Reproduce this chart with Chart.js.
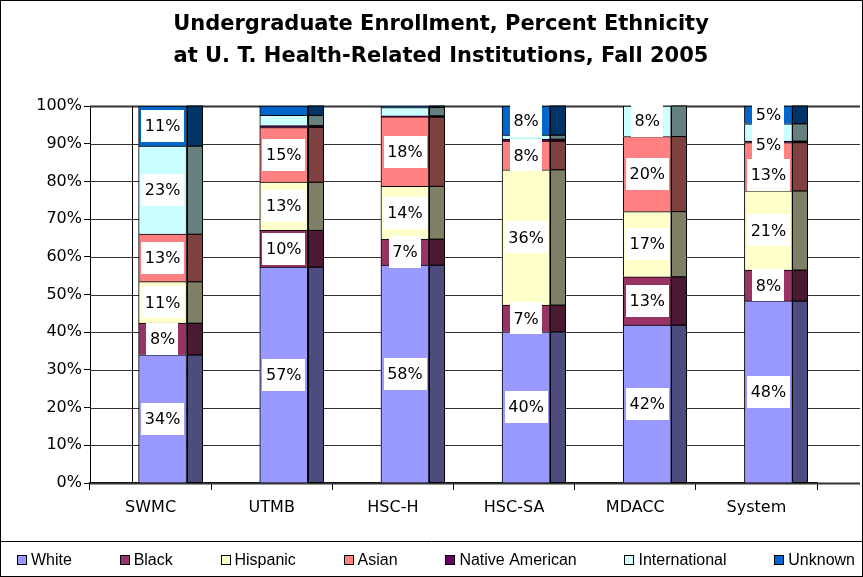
<!DOCTYPE html>
<html>
<head>
<meta charset="utf-8">
<script src="https://cdn.jsdelivr.net/npm/chart.js@4.4.0/dist/chart.umd.min.js"></script>
<style>html,body{margin:0;padding:0;background:#fff}</style>
</head>
<body>
<canvas id="enrollChart" width="863" height="577"></canvas>
<script>
// percent of undergraduate enrollment
const categories = ['SWMC', 'UTMB', 'HSC-H', 'HSC-SA', 'MDACC', 'System'];
const white    = [34.0, 57.3, 57.8, 40.1, 41.9, 48.3];
const black    = [8.4, 9.7, 6.9, 7.1, 12.8, 8.2];
const hispanic = [11.0, 12.8, 14.0, 35.9, 17.3, 21.0];
const asian    = [12.6, 14.5, 18.4, 7.6, 19.9, 12.8];
const nativeAm = [0, 0.5, 0.3, 0.5, 0, 0.4];
const intl     = [23.4, 2.7, 2.2, 1.1, 8.1, 4.6];
const unknown  = [10.6, 2.5, 0.4, 7.7, 0, 4.7];
const seriesNames  = ['White', 'Black', 'Hispanic', 'Asian', 'Native American', 'International', 'Unknown'];
const seriesValues = [white, black, hispanic, asian, nativeAm, intl, unknown];
const seriesColors = ['#9999ff', '#993366', '#ffffcc', '#ff8080', '#660066', '#ccffff', '#0066cc'];

const FONT = 'DejaVu Sans', LEGEND_FONT = '16px "Liberation Sans"';
const depth = 16, shift = 12, minLabel = 4, labelGap = 30;

function darker(hex){
  const n = parseInt(hex.slice(1), 16);
  const r = (n >> 16) >> 1, g = ((n >> 8) & 255) >> 1, b = (n & 255) >> 1;
  return `rgb(${r},${g},${b})`;
}

const decor = {
  id: 'decor',
  beforeDatasetsDraw(chart){
    const { ctx, chartArea: a, scales: { y } } = chart;
    ctx.save();
    ctx.strokeStyle = '#333';
    y.ticks.forEach(t => {
      const py = Math.round(y.getPixelForValue(t.value)) + 0.5;
      ctx.lineWidth = (t.value === 100 || t.value === 0) ? 2 : 1;
      ctx.beginPath(); ctx.moveTo(a.left, py); ctx.lineTo(chart.width - 3, py); ctx.stroke();
    });
    // back wall edge
    ctx.lineWidth = 1; ctx.strokeStyle = '#000';
    ctx.beginPath(); ctx.moveTo(a.left + 42.5, a.top); ctx.lineTo(a.left + 42.5, a.bottom); ctx.stroke();
    ctx.restore();
    ctx.save();
    ctx.translate(shift, 0);
  },
  afterDatasetsDraw(chart){
    const ctx = chart.ctx;
    // side faces
    chart.data.datasets.forEach((ds, i) => {
      chart.getDatasetMeta(i).data.forEach(bar => {
        const { x, y, base, width } = bar.getProps(['x', 'y', 'base', 'width'], true);
        if (Math.abs(base - y) < 0.1) return;
        const x0 = Math.round(x + width / 2);
        ctx.fillStyle = darker(ds.backgroundColor);
        ctx.fillRect(x0, y, depth, base - y);
        ctx.strokeStyle = '#000'; ctx.lineWidth = 1;
        ctx.strokeRect(x0 + 0.5, y, depth - 1, base - y);
      });
    });
    // value labels, nudged down a little where they would collide
    ctx.font = `16px "${FONT}"`;
    ctx.textAlign = 'center'; ctx.textBaseline = 'middle';
    const labels = [];
    categories.forEach((c, j) => {
      const col = [];
      chart.data.datasets.forEach((ds, i) => {
        const v = ds.data[j];
        if (v < minLabel) return;
        const { x, y, base } = chart.getDatasetMeta(i).data[j].getProps(['x', 'y', 'base'], true);
        col.push({ i, x, cy: (y + base) / 2, txt: Math.round(v) + '%' });
      });
      col.sort((p, q) => p.cy - q.cy);
      for (let k = 1; k < col.length; k++) col[k].cy = Math.max(col[k].cy, col[k - 1].cy + labelGap);
      labels.push(...col);
    });
    labels.sort((p, q) => p.i - q.i).forEach(l => {
      const w = ctx.measureText(l.txt).width + 7, h = 32;
      ctx.fillStyle = '#fff';
      ctx.fillRect(Math.round(l.x - w / 2), Math.round(l.cy - h / 2), Math.round(w), h);
      ctx.fillStyle = '#000';
      ctx.fillText(l.txt, l.x, l.cy + 1);
    });
    ctx.restore();
  },
  afterDraw(chart){
    const ctx = chart.ctx, W = chart.width, H = chart.height;
    ctx.save();
    ctx.strokeStyle = '#000'; ctx.lineWidth = 1;
    ctx.strokeRect(0.5, 0.5, W - 1, H - 1);
    ctx.beginPath(); ctx.moveTo(0, 541.5); ctx.lineTo(W, 541.5); ctx.stroke();
    // legend row
    ctx.font = LEGEND_FONT; ctx.textAlign = 'left'; ctx.textBaseline = 'middle';
    const widths = seriesNames.map(n => 14 + ctx.measureText(n).width);
    const x0 = 17, x1 = 855, ly = 560;
    const gap = (x1 - x0 - widths.reduce((a, b) => a + b, 0)) / (seriesNames.length - 1);
    let x = x0;
    seriesNames.forEach((n, i) => {
      ctx.fillStyle = seriesColors[i];
      ctx.fillRect(Math.round(x), ly - 5, 10, 10);
      ctx.strokeStyle = '#000';
      ctx.strokeRect(Math.round(x) + 0.5, ly - 4.5, 9, 9);
      ctx.fillStyle = '#000';
      ctx.fillText(n, x + 14, ly + 1);
      x += widths[i] + gap;
    });
    ctx.restore();
  }
};

new Chart(document.getElementById('enrollChart'), {
  type: 'bar',
  data: {
    labels: categories,
    datasets: seriesNames.map((name, i) => ({
      label: name,
      data: seriesValues[i],
      backgroundColor: seriesColors[i],
      borderColor: '#000',
      borderWidth: 1,
      barThickness: 48,
      stack: 'all'
    }))
  },
  options: {
    responsive: false,
    animation: false,
    devicePixelRatio: 1,
    layout: { padding: { left: 19, right: 0, top: 0, bottom: 36 } },
    plugins: {
      title: {
        display: true,
        text: ['Undergraduate Enrollment, Percent Ethnicity', 'at U. T. Health-Related Institutions, Fall 2005'],
        color: '#000',
        font: { family: FONT, size: 21, weight: 'bold', lineHeight: 1.524 },
        padding: { top: 9, bottom: 33 }
      },
      legend: { display: false },
      tooltip: { enabled: false }
    },
    scales: {
      x: {
        stacked: true,
        border: { display: true, color: '#000', width: 2 },
        grid: { drawOnChartArea: false, drawTicks: true, tickLength: 7, color: '#000' },
        ticks: { color: '#000', font: { family: FONT, size: 16 }, padding: 8 },
        afterFit(scale){ scale.height = 58; }
      },
      y: {
        stacked: true,
        min: 0, max: 100,
        border: { display: true, color: '#000', width: 1 },
        grid: { drawOnChartArea: false, drawTicks: true, tickLength: 6, color: '#000' },
        ticks: { stepSize: 10, color: '#000', font: { family: FONT, size: 16 }, padding: 2,
                 callback: v => v + '%' },
        afterFit(scale){ scale.width = 71; }
      },
      // empty strip on the right where the depth of the plot sits
      depthStrip: {
        type: 'linear', position: 'right', display: true,
        grid: { display: false }, border: { display: false }, ticks: { display: false },
        afterFit(scale){ scale.width = 46; }
      }
    }
  },
  plugins: [decor]
});
</script>
</body>
</html>
